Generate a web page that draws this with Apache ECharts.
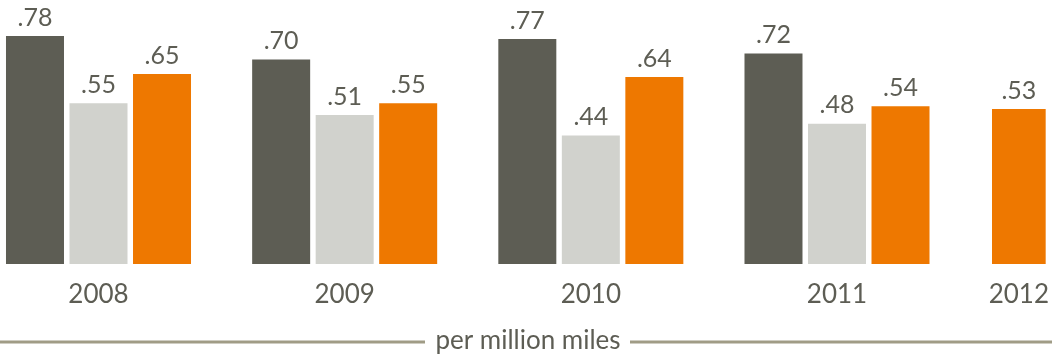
<!DOCTYPE html>
<html>
<head>
<meta charset="utf-8">
<style>
  html, body { margin: 0; padding: 0; background: #fff; }
  #chart { width: 1052px; height: 354px; }
</style>
<script src="https://cdn.jsdelivr.net/npm/echarts@6/dist/echarts.min.js"></script>
</head>
<body>
<div id="chart"></div>
<script>
// Rates per million miles, by year
const years = ['2008', '2009', '2010', '2011', '2012'];
const darkValues = [0.78, 0.70, 0.77, 0.72, null];
const lightValues = [0.55, 0.51, 0.44, 0.48, null];
const orangeValues = [0.65, 0.55, 0.64, 0.54, 0.53];
const unitLabel = 'per million miles';

const DARK = '#5d5d54';
const LIGHT = '#d1d2cd';
const ORANGE = '#ee7800';
const TEXT = '#5d5d54';
const RULE = '#a09c86';
const FONT = 'Lato';

// 2008–2011 share one grid; 2012 stands alone at the right edge
const fullYears = years.slice(0, 4);
const lastYears = years.slice(4);

const valueLabel = {
  show: true,
  position: 'top',
  distance: 6,
  color: TEXT,
  fontFamily: FONT,
  fontSize: 25,
  formatter: p => p.value.toFixed(2).replace(/^0/, '')
};

const yAxisBase = { type: 'value', min: 0, max: 0.9, show: false };
const xAxisBase = {
  type: 'category',
  axisLine: { show: false },
  axisTick: { show: false },
  axisLabel: { color: TEXT, fontFamily: FONT, fontSize: 26, margin: 18 }
};

const chart = echarts.init(document.getElementById('chart'), null, { renderer: 'canvas' });
chart.setOption({
  animation: false,
  grid: [
    // year groups sit on the tick positions, from the first to the last
    { left: 98.5, top: 1, width: 738.5, height: 263 },
    { left: 992, top: 1, width: 58, height: 263 }
  ],
  xAxis: [
    Object.assign({}, xAxisBase, { gridIndex: 0, data: fullYears, boundaryGap: false }),
    Object.assign({}, xAxisBase, { gridIndex: 1, data: lastYears })
  ],
  yAxis: [
    Object.assign({}, yAxisBase, { gridIndex: 0 }),
    Object.assign({}, yAxisBase, { gridIndex: 1 })
  ],
  series: [
    { type: 'bar', xAxisIndex: 0, yAxisIndex: 0, data: darkValues.slice(0, 4), clip: false,
      barWidth: 58, barGap: '9.5%', itemStyle: { color: DARK }, label: valueLabel },
    { type: 'bar', xAxisIndex: 0, yAxisIndex: 0, data: lightValues.slice(0, 4), clip: false,
      barWidth: 58, barGap: '9.5%', itemStyle: { color: LIGHT }, label: valueLabel },
    { type: 'bar', xAxisIndex: 0, yAxisIndex: 0, data: orangeValues.slice(0, 4), clip: false,
      barWidth: 58, barGap: '9.5%', itemStyle: { color: ORANGE }, label: valueLabel },
    { type: 'bar', xAxisIndex: 1, yAxisIndex: 1, data: orangeValues.slice(4),
      barWidth: 58, itemStyle: { color: ORANGE }, label: valueLabel }
  ],
  graphic: [
    { type: 'line', shape: { x1: 0, y1: 342, x2: 425, y2: 342 },
      style: { stroke: RULE, lineWidth: 3 } },
    { type: 'line', shape: { x1: 630, y1: 342, x2: 1052, y2: 342 },
      style: { stroke: RULE, lineWidth: 3 } },
    { type: 'text', x: 528, y: 341,
      style: { text: unitLabel, fill: TEXT, font: '26px ' + FONT, align: 'center', verticalAlign: 'middle' } }
  ]
});
</script>
</body>
</html>
